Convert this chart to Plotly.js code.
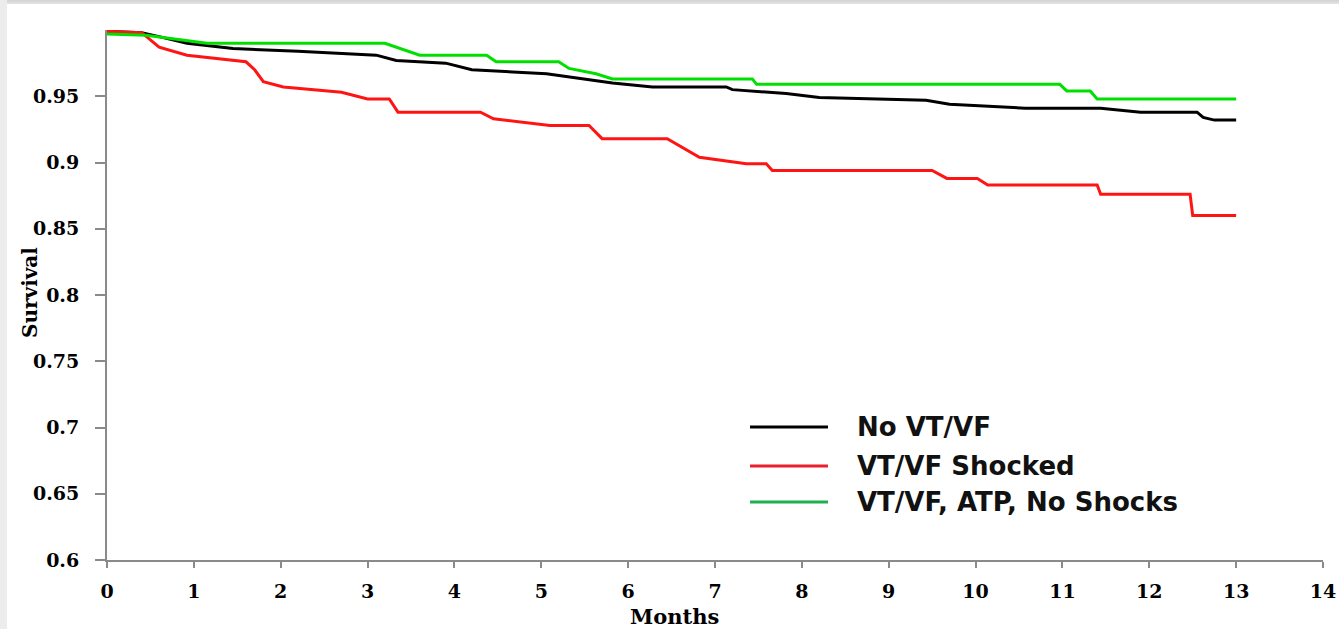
<!DOCTYPE html>
<html>
<head>
<meta charset="utf-8">
<script src="https://cdn.plot.ly/plotly-3.0.1.min.js"></script>
<style>
  html, body { margin: 0; padding: 0; background: #ffffff; }
  #chart { width: 1339px; height: 629px; position: absolute; left: 0; top: 0; }
  #topStrip { position: absolute; left: 0; top: 0; width: 1339px; height: 4px; background: linear-gradient(#d2d2d2, #e4e4e4); pointer-events: none; }
  #leftStrip { position: absolute; left: 0; top: 0; width: 7px; height: 629px; background: #ececec; pointer-events: none; }
</style>
</head>
<body>
<div id="chart"></div>
<div id="topStrip"></div>
<div id="leftStrip"></div>
<script>
// ---- Data ----
const seriesNames = ["No VT/VF", "VT/VF Shocked", "VT/VF, ATP, No Shocks"];

const noVtMonths = [0, 0.4, 0.6, 0.92, 1.45, 2.2, 3.1, 3.33, 3.9, 4.2, 5.06, 5.82, 6.28, 7.13, 7.2, 7.82, 8.2, 8.9, 9.43, 9.7, 10.41, 10.57, 11.44, 11.9, 12.55, 12.62, 12.75, 13.0];
const noVtSurvival = [0.999, 0.998, 0.995, 0.990, 0.986, 0.984, 0.981, 0.977, 0.975, 0.970, 0.967, 0.960, 0.957, 0.957, 0.955, 0.952, 0.949, 0.948, 0.947, 0.944, 0.942, 0.941, 0.941, 0.938, 0.938, 0.934, 0.932, 0.932];

const shockedMonths = [0, 0.4, 0.6, 0.92, 1.6, 1.7, 1.8, 2.03, 2.7, 3.0, 3.25, 3.35, 4.3, 4.45, 5.1, 5.55, 5.7, 6.45, 6.82, 7.36, 7.59, 7.66, 9.5, 9.67, 10.02, 10.14, 11.4, 11.44, 12.47, 12.5, 13.0];
const shockedSurvival = [0.999, 0.998, 0.987, 0.981, 0.976, 0.970, 0.961, 0.957, 0.953, 0.948, 0.948, 0.938, 0.938, 0.933, 0.928, 0.928, 0.918, 0.918, 0.904, 0.899, 0.899, 0.894, 0.894, 0.888, 0.888, 0.883, 0.883, 0.876, 0.876, 0.860, 0.860];

const atpMonths = [0, 0.45, 1.15, 3.2, 3.6, 4.37, 4.48, 5.2, 5.32, 5.63, 5.82, 7.43, 7.48, 10.97, 11.05, 11.32, 11.4, 13.0];
const atpSurvival = [0.997, 0.996, 0.990, 0.990, 0.981, 0.981, 0.976, 0.976, 0.971, 0.967, 0.963, 0.963, 0.959, 0.959, 0.954, 0.954, 0.948, 0.948];

const xTicks = [0, 1, 2, 3, 4, 5, 6, 7, 8, 9, 10, 11, 12, 13, 14];
const yTicks = [0.6, 0.65, 0.7, 0.75, 0.8, 0.85, 0.9, 0.95];
const yTickText = ["0.6", "0.65", "0.7", "0.75", "0.8", "0.85", "0.9", "0.95"];
const xTitle = "Months";
const yTitle = "Survival";

// ---- Styles ----
const curveColors = ["#000000", "#ff1414", "#00e000"];
const legendColors = ["#000000", "#e8202a", "#1fb04e"];
const serif = "DejaVu Serif, serif";
const sans = "DejaVu Sans, sans-serif";

const xs = [noVtMonths, shockedMonths, atpMonths];
const ys = [noVtSurvival, shockedSurvival, atpSurvival];

const traces = seriesNames.map((n, i) => ({
  type: "scatter",
  mode: "lines",
  name: n,
  x: xs[i],
  y: ys[i],
  line: { color: curveColors[i], width: 3, shape: "linear" },
  showlegend: false,
  hoverinfo: "x+y+name"
}));

// custom legend (lines + labels) placed in paper coordinates
const legendRowsY = [0.2509, 0.1774, 0.1094];
const shapes = seriesNames.map((n, i) => ({
  type: "line", xref: "paper", yref: "paper",
  x0: 0.5288, x1: 0.5929, y0: legendRowsY[i], y1: legendRowsY[i],
  line: { color: legendColors[i], width: 3 }
}));
const annotations = seriesNames.map((n, i) => ({
  xref: "paper", yref: "paper", x: 0.6150, y: legendRowsY[i],
  xanchor: "left", yanchor: "middle", showarrow: false,
  text: "<b>" + n + "</b>",
  font: { family: sans, size: 26, color: "#111111" }
}));
annotations.push({
  xref: "paper", yref: "paper", x: 0.4663, y: -0.1057,
  xanchor: "center", yanchor: "middle", showarrow: false, borderpad: 0,
  text: "<b>" + xTitle + "</b>",
  font: { family: serif, size: 21, color: "#000000" }
});
annotations.push({
  xref: "paper", yref: "paper", x: -0.0633, y: 0.5038,
  xanchor: "center", yanchor: "middle", showarrow: false, textangle: -90,
  text: "<b>" + yTitle + "</b>",
  font: { family: serif, size: 20, color: "#000000" }
});

const layout = {
  width: 1339, height: 629,
  margin: { l: 107, r: 16, t: 30, b: 69, pad: 0 },
  paper_bgcolor: "#ffffff",
  plot_bgcolor: "#ffffff",
  showlegend: false,
  xaxis: {
    range: [0, 14], tickvals: xTicks, ticktext: xTicks.map(String),
    showline: true, linecolor: "#8a8a8a", linewidth: 2,
    ticks: "outside", ticklen: 6, tickwidth: 1.5, tickcolor: "#8a8a8a",
    showgrid: false, zeroline: false, ticklabelstandoff: 7,
    tickfont: { family: serif, size: 19, color: "#000000", weight: "bold" }
  },
  yaxis: {
    range: [0.6, 1.0], tickvals: yTicks, ticktext: yTickText,
    showline: true, linecolor: "#8a8a8a", linewidth: 2,
    ticks: "outside", ticklen: 10, tickwidth: 1.5, tickcolor: "#8a8a8a",
    showgrid: false, zeroline: false, ticklabelstandoff: 12,
    tickfont: { family: serif, size: 19, color: "#000000", weight: "bold" }
  },
  shapes: shapes,
  annotations: annotations
};

Plotly.newPlot("chart", traces, layout, { displayModeBar: false, staticPlot: false });
</script>
</body>
</html>
